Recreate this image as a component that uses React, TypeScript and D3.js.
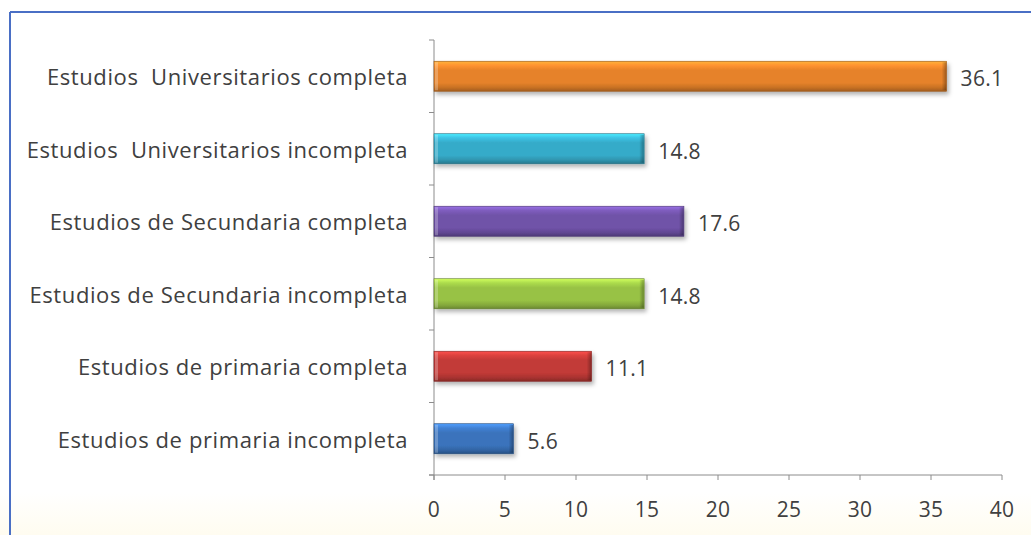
import React from "react";
import * as d3 from "d3";

const categories = [
  "Estudios  Universitarios completa",
  "Estudios  Universitarios incompleta",
  "Estudios de Secundaria completa",
  "Estudios de Secundaria incompleta",
  "Estudios de primaria completa",
  "Estudios de primaria incompleta",
];
const values = [36.1, 14.8, 17.6, 14.8, 11.1, 5.6];
const barColors = ["#E6822A", "#36ABC9", "#7052A8", "#98C244", "#C23A37", "#3A73BC"];
const xTicks = [0, 5, 10, 15, 20, 25, 30, 35, 40];

const W = 1031;
const H = 535;
const FONT = "'Open Sans', sans-serif";
const TEXT = "#404040";
const AXIS = "#8C8C8C";

export default function App() {
  const x = d3.scaleLinear().domain([0, 40]).range([434, 1002]);
  const y = d3.scaleBand<string>().domain(categories).range([40, 475]).paddingInner(0.586).paddingOuter(0.293);
  const bw = y.bandwidth();
  const shade = (c: string, k: number) => (k > 0 ? d3.color(c)!.brighter(k).formatHex() : d3.color(c)!.darker(-k).formatHex());

  return (
    <svg width={W} height={H} style={{ position: "absolute", left: 0, top: 0, background: "#fff" }}>
      <defs>
        {barColors.map((c, i) => (
          <linearGradient key={i} id={`g${i}`} x1="0" y1="0" x2="0" y2="1">
            <stop offset="0" stopColor={shade(c, 0.9)} />
            <stop offset="0.14" stopColor={shade(c, 0.35)} />
            <stop offset="0.3" stopColor={c} />
            <stop offset="0.72" stopColor={c} />
            <stop offset="0.88" stopColor={shade(c, -0.4)} />
            <stop offset="1" stopColor={shade(c, -1.0)} />
          </linearGradient>
        ))}
        <linearGradient id="endShade" x1="0" y1="0" x2="1" y2="0">
          <stop offset="0" stopColor="#000" stopOpacity="0" />
          <stop offset="1" stopColor="#000" stopOpacity="0.3" />
        </linearGradient>
        <filter id="shadow" x="-5%" y="-30%" width="115%" height="180%">
          <feDropShadow dx="2" dy="3" stdDeviation="2" floodColor="#000" floodOpacity="0.3" />
        </filter>
        <linearGradient id="bg" x1="0" y1="0" x2="0" y2="1">
          <stop offset="0" stopColor="#ffffff" />
          <stop offset="0.92" stopColor="#ffffff" />
          <stop offset="1" stopColor="#FFFCF0" />
        </linearGradient>
      </defs>
      <rect x={0} y={0} width={W} height={H} fill="url(#bg)" />
      <line x1={10} y1={12} x2={W} y2={12} stroke="#4A6FC5" strokeWidth={2} />
      <line x1={10} y1={12} x2={10} y2={H} stroke="#4A6FC5" strokeWidth={2} />

      {/* category axis */}
      <line x1={434} y1={40} x2={434} y2={480} stroke={AXIS} strokeWidth={1} />
      {[...categories.map((c) => y(c)! - y.step() * y.paddingInner() / 2), 475].map((t, i) => (
        <line key={i} x1={429} x2={434} y1={t} y2={t} stroke={AXIS} />
      ))}
      {/* value axis */}
      <line x1={429} y1={475} x2={1002} y2={475} stroke={AXIS} strokeWidth={1} />
      {xTicks.map((t) => (
        <g key={t}>
          <line x1={x(t)} x2={x(t)} y1={475} y2={480} stroke={AXIS} />
          <text x={x(t)} y={509} textAnchor="middle" dominantBaseline="central" fontFamily={FONT} fontSize={21} letterSpacing={0.3} fill={TEXT}>
            {t}
          </text>
        </g>
      ))}

      {categories.map((c, i) => {
        const y0 = y(c)!;
        const x1 = x(values[i]);
        return (
          <g key={c}>
            <text x={408} y={y0 + bw / 2} textAnchor="end" dominantBaseline="central" fontFamily={FONT} fontSize={22} letterSpacing={0.6} fill={TEXT} style={{ whiteSpace: "pre" }}>
              {c}
            </text>
            <g filter="url(#shadow)">
              <rect x={x(0)} y={y0} width={x1 - x(0)} height={bw} fill={`url(#g${i})`} stroke={shade(barColors[i], -1.2)} strokeWidth={0.6} />
            </g>
            <rect x={x1 - 5} y={y0 + 1} width={4.5} height={bw - 2} fill="url(#endShade)" />
            <rect x={x(0) + 1} y={y0 + 1} width={3} height={bw - 2} fill="#fff" opacity={0.25} />
            <text x={x1 + 14} y={y0 + bw / 2 + 2} dominantBaseline="central" fontFamily={FONT} fontSize={21} letterSpacing={0.3} fill={TEXT}>
              {values[i].toFixed(1)}
            </text>
          </g>
        );
      })}
    </svg>
  );
}
